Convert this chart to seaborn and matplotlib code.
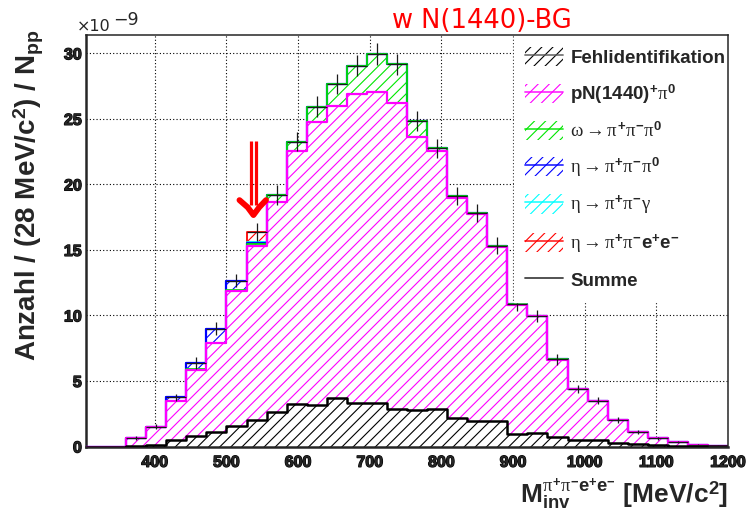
import numpy as np
import pandas as pd
import matplotlib
matplotlib.use("Agg")
import matplotlib.pyplot as plt
import matplotlib.patheffects as pe
from matplotlib.patches import Patch
from matplotlib.lines import Line2D
from matplotlib.ticker import MultipleLocator
import seaborn as sns

# ---------------------------------------------------------------------------
# Binning: 32 bins of 28 MeV/c^2 from 304 to 1200 MeV/c^2
# ---------------------------------------------------------------------------
bin_edges = np.arange(304, 1201, 28)
bin_centers = 0.5 * (bin_edges[:-1] + bin_edges[1:])

# Yields per bin (units of 1e-9), one array per cocktail component
fehlidentifikation = [0.00, 0.00, 0.05, 0.15, 0.53, 0.81, 1.11, 1.57, 2.00, 2.64, 3.23,
                      3.20, 3.71, 3.30, 3.35, 2.85, 2.77, 2.85, 2.14, 1.93, 1.93, 0.99,
                      1.04, 0.74, 0.53, 0.50, 0.30, 0.17, 0.08, 0.05, 0.03, 0.02]
pn1440_pi0 = [0.00, 0.00, 0.58, 1.35, 2.95, 5.01, 6.76, 10.28, 13.29, 16.03, 19.31,
              21.53, 22.27, 23.57, 23.67, 23.33, 20.86, 19.69, 16.79, 15.81, 13.33, 9.81,
              8.88, 5.88, 3.87, 3.00, 1.70, 0.94, 0.54, 0.29, 0.12, 0.05]
omega_3pi = [0.00, 0.00, 0.01, 0.02, 0.00, 0.06, 0.06, 0.13, 0.18, 0.55, 0.71,
             1.19, 1.68, 2.19, 2.93, 3.00, 1.23, 0.21, 0.21, 0.05, 0.05, 0.04,
             0.03, 0.02, 0.02, 0.00, 0.00, 0.00, 0.00, 0.00, 0.00, 0.00]
eta_3pi = [0.00, 0.00, 0.00, 0.00, 0.26, 0.50, 1.07, 0.66, 0.07, 0.00, 0.00,
           0.00, 0.00, 0.00, 0.00, 0.00, 0.00, 0.00, 0.00, 0.00, 0.00, 0.00,
           0.00, 0.00, 0.00, 0.00, 0.00, 0.00, 0.00, 0.00, 0.00, 0.00]
eta_pipigamma = [0.00, 0.00, 0.00, 0.00, 0.00, 0.00, 0.00, 0.00, 0.08, 0.00, 0.00,
                 0.00, 0.00, 0.00, 0.00, 0.00, 0.00, 0.00, 0.00, 0.00, 0.00, 0.00,
                 0.00, 0.00, 0.00, 0.00, 0.00, 0.00, 0.00, 0.00, 0.00, 0.00]
eta_pipiee = [0.00, 0.00, 0.00, 0.00, 0.00, 0.00, 0.00, 0.00, 0.72, 0.00, 0.00,
              0.00, 0.00, 0.00, 0.00, 0.00, 0.00, 0.00, 0.00, 0.00, 0.00, 0.00,
              0.00, 0.00, 0.00, 0.00, 0.00, 0.00, 0.00, 0.00, 0.00, 0.00]
# statistical uncertainty of the sum
summe_err = [0.00, 0.00, 0.13, 0.20, 0.30, 0.46, 0.47, 0.50, 0.69, 0.76, 0.72,
             0.79, 0.79, 0.81, 0.81, 0.80, 0.76, 0.70, 0.69, 0.69, 0.64, 0.48,
             0.46, 0.44, 0.30, 0.27, 0.23, 0.18, 0.13, 0.10, 0.07, 0.05]

components = [
    ("Fehlidentifikation", fehlidentifikation, "black", 1.8),
    (r"pN(1440)$^{+}\pi^{0}$", pn1440_pi0, "#ff00ff", 1.6),
    (r"$\omega\rightarrow\pi^{+}\pi^{-}\pi^{0}$", omega_3pi, "#00e600", 1.3),
    (r"$\eta\rightarrow\pi^{+}\pi^{-}\pi^{0}$", eta_3pi, "#0000ff", 1.6),
    (r"$\eta\rightarrow\pi^{+}\pi^{-}\gamma$", eta_pipigamma, "#00ffff", 1.3),
    (r"$\eta\rightarrow\pi^{+}\pi^{-}\mathrm{e}^{+}\mathrm{e}^{-}$", eta_pipiee, "#ff0000", 1.3),
]

# ---------------------------------------------------------------------------
# Style
# ---------------------------------------------------------------------------
sns.set_style("white")
plt.rcParams.update({
    "font.family": ["Liberation Sans", "DejaVu Sans"],
    "font.weight": "bold",
    "mathtext.fontset": "custom",
    "mathtext.rm": "Liberation Sans:bold",
    "mathtext.bf": "Liberation Sans:bold",
    "mathtext.it": "Liberation Serif:normal",
    "mathtext.sf": "Liberation Sans:bold",
    "hatch.linewidth": 0.8,
})

fig = plt.figure(figsize=(7.51, 5.14), dpi=100)
ax = fig.add_axes([86 / 751, 1 - 446.5 / 514, 642 / 751, 411.5 / 514])

# cumulative stack
stack = np.cumsum(np.array([c[1] for c in components]), axis=0)
lower = np.vstack([np.zeros(len(bin_centers)), stack[:-1]])

def ext(v):
    return np.append(v, v[-1])

# hatched stack layers (white under-fill hides the grid)
for i, (label, vals, color, lw) in enumerate(components):
    ax.fill_between(bin_edges, ext(lower[i]), ext(stack[i]), step="post",
                    facecolor="white", edgecolor=color, hatch="///",
                    linewidth=0, zorder=2)

# outlines of the cumulative histograms, top layer first
edge_list = [float(e) for e in bin_edges]
for i in reversed(range(len(components))):
    label, vals, color, lw = components[i]
    layer = pd.DataFrame({"mass": bin_centers, "yield": stack[i]})
    sns.histplot(data=layer, x="mass", weights="yield", bins=edge_list, element="step",
                 fill=False, color=color, linewidth=lw, ax=ax, zorder=3 + (6 - i) * 0.1)

# sum with error bars
summe = stack[-1]
ax.errorbar(bin_centers, summe, xerr=14, yerr=summe_err, fmt="none",
            ecolor="#1a1a1a", elinewidth=0.9, capsize=0, zorder=5)

# marker arrow at the eta mass bin
arrow_x, arrow_top, arrow_tip = 537.7, 23.3, 17.66
ax.plot([arrow_x - 3.3, arrow_x - 3.3], [18.4, arrow_top], color="red", lw=2.3,
        solid_capstyle="butt", zorder=6)
ax.plot([arrow_x + 3.0, arrow_x + 3.0], [18.4, arrow_top], color="red", lw=2.3,
        solid_capstyle="butt", zorder=6)
ax.plot([arrow_x - 19.5, arrow_x - 8, arrow_x, arrow_x + 8, arrow_x + 17.5],
        [18.8, 18.25, arrow_tip, 18.25, 18.8], color="red", lw=4.2,
        solid_joinstyle="round", solid_capstyle="round", zorder=6)

# axes ranges, ticks, grid
ax.set_xlim(304, 1200)
ax.set_ylim(0, 31.4)
ax.xaxis.set_major_locator(MultipleLocator(100))
ax.xaxis.set_minor_locator(MultipleLocator(20))
ax.yaxis.set_major_locator(MultipleLocator(5))
ax.yaxis.set_minor_locator(MultipleLocator(1))
ax.tick_params(axis="x", which="major", direction="in", length=10.5, width=1.5,
               pad=6, labelsize=11.5, top=False)
ax.tick_params(axis="x", which="minor", direction="in", length=5, width=1.3, top=False)
ax.tick_params(axis="y", which="major", direction="in", length=12, width=1.5,
               pad=3, labelsize=11.5, right=False)
ax.tick_params(axis="y", which="minor", direction="in", length=6.5, width=1.3, right=False)
for t in ax.get_xticklabels() + ax.get_yticklabels():
    t.set_fontweight("bold")
    t.set_path_effects([pe.withStroke(linewidth=0.9, foreground="black")])
ax.set_axisbelow(True)
ax.grid(True, which="major", color="black", linestyle=(0, (1, 2)), linewidth=0.8)
for side in ("left", "bottom"):
    ax.spines[side].set_linewidth(1.8)
for side in ("top", "right"):
    ax.spines[side].set_linewidth(1.1)
    ax.spines[side].set_zorder(8)

# axis titles
ax.set_xlabel(r"M$_{\mathrm{inv}}^{\pi^{+}\pi^{-}\mathrm{e}^{+}\mathrm{e}^{-}}$ [MeV/c$^{2}$]",
              loc="right", fontsize=19, fontweight="bold")
ax.xaxis.label.set_va("baseline")
ax.xaxis.set_label_coords(1.0, (446.5 - 503) / 411.5)
ax.set_ylabel(r"Anzahl / (28 MeV/c$^{2}$) / N$_{\mathrm{pp}}$", loc="top",
              fontsize=20, fontweight="bold")
ax.yaxis.label.set_va("baseline")
ax.yaxis.set_label_coords((36 - 86) / 642, (446.5 - 30) / 411.5)

# exponent of the y scale and the red title
fig.text(77 / 751, 1 - 31 / 514, "\u00d710", fontsize=11.5, family="DejaVu Sans",
         fontweight="normal", va="baseline", ha="left")
fig.text(113 / 751, 1 - 25 / 514, "\u22129", fontsize=12.5, family="DejaVu Sans",
         fontweight="normal", va="baseline", ha="left")
fig.text(392 / 751, 1 - 28 / 514, "w N(1440)-BG", fontsize=18.5, family="DejaVu Sans",
         fontweight="normal", color="red", va="baseline", ha="left")

# legend
handles = []
for label, vals, color, lw in components:
    line_color = "#555555" if color == "black" else color
    handles.append((Patch(facecolor="white", edgecolor=color, hatch="///", linewidth=0),
                    Line2D([], [], color=line_color, lw=1.3, alpha=0.8)))
handles.append(Line2D([], [], color="#444444", lw=1.3))
labels = [c[0] for c in components] + ["Summe"]
leg = ax.legend(handles, labels, loc="upper left",
                bbox_to_anchor=((514 - 86) / 642, 0, (727 - 514) / 642, (446.5 - 36) / 411.5),
                mode="expand", borderaxespad=0, frameon=True, fancybox=False,
                facecolor="white", edgecolor="white", framealpha=1,
                handlelength=2.0, handleheight=1.2, handletextpad=0.4,
                labelspacing=0.8, borderpad=0.6, prop={"weight": "bold", "size": 13.5})
leg.set_zorder(7)

fig.savefig("out.png", dpi=100)
